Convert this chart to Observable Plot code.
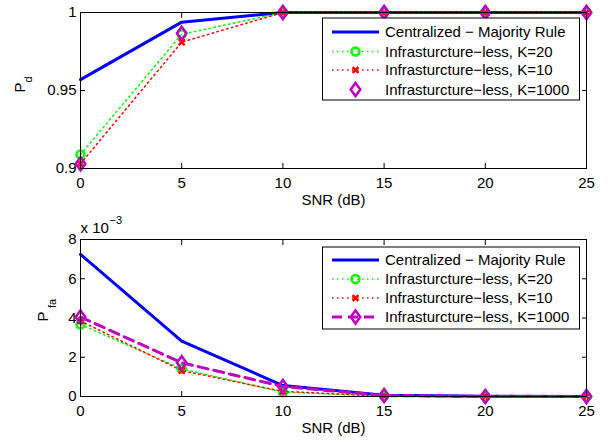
<!DOCTYPE html>
<html><head><meta charset="utf-8">
<script src="https://cdn.jsdelivr.net/npm/d3@7"></script>
<script src="https://cdn.jsdelivr.net/npm/@observablehq/plot@0.6"></script>
<style>
body{margin:0;background:#fff;}
#wrap{position:relative;width:610px;height:441px;font-family:"Liberation Sans",Arial,sans-serif;background:#fff;}
#topPanel,#botPanel{position:absolute;left:0;}
#topPanel{top:0}
#botPanel{top:205px}
#leg{position:absolute;left:0;top:0;pointer-events:none;}
</style></head><body>
<div id="wrap"><div id="topPanel"></div><div id="botPanel"></div><svg id="leg" width="610" height="441"></svg></div>
<script>
// ---- data ----
const snr = [0, 5, 10, 15, 20, 25];
const pdCentral = [0.957, 0.9938, 1, 1, 1, 1];
const pdK20     = [0.909, 0.986, 1, 1, 1, 1];
const pdK10     = [0.903, 0.981, 1, 1, 1, 1];
const pdK1000   = [0.903, 0.9867, 1, 1, 1, 1];
// Pfa in units of 1e-3
const pfaCentral = [7.24, 2.82, 0.56, 0.07, 0.01, 0];
const pfaK20     = [3.67, 1.41, 0.22, 0.02, 0, 0];
const pfaK10     = [3.85, 1.32, 0.26, 0.02, 0, 0];
const pfaK1000   = [4.05, 1.72, 0.51, 0.05, 0, 0];
const xTicks = [0, 5, 10, 15, 20, 25];
const pdTicks = [0.9, 0.95, 1];
const pdTickLabels = ["0.9", "0.95", "1"];
const pfaTicks = [0, 2, 4, 6, 8];
const pfaTickLabels = ["0", "2", "4", "6", "8"];
const seriesNames = ["Centralized − Majority Rule", "Infrasturcture−less, K=20", "Infrasturcture−less, K=10", "Infrasturcture−less, K=1000"];
const xLabel = "SNR (dB)";

const BLUE = "#0000ff", GREEN = "#00ff00", RED = "#ff0000", MAG = "#bf00bf";
const FONT = "Liberation Sans, Arial, sans-serif";

const diamond = {
  draw(ctx, size) {
    const s = Math.sqrt(size / Math.PI);
    const h = s * 1.65, w = s * 1.2;
    ctx.moveTo(0, -h); ctx.lineTo(w, 0); ctx.lineTo(0, h); ctx.lineTo(-w, 0); ctx.closePath();
  }
};

function rowsOf(a, b, c, d) {
  return snr.map((s, i) => ({snr: s, central: a[i], k20: b[i], k10: c[i], k1000: d[i]}));
}

function panel({height, marginTop, marginBottom, yDomain, yTicks, yLabels, rows, k1000Line, extraMarks}) {
  const fmt = (d) => yLabels[yTicks.indexOf(d)] ?? "";
  return Plot.plot({
    width: 610, height, marginLeft: 80, marginRight: 24, marginTop, marginBottom,
    style: {fontFamily: FONT, fontSize: "15px", color: "black", background: "transparent", overflow: "visible"},
    x: {domain: [0, 25]},
    y: {domain: yDomain},
    marks: [
      Plot.axisX(xTicks, {anchor: "bottom", tickSize: -5, tickPadding: 14, label: null, fontSize: 15}),
      Plot.axisX(xTicks, {anchor: "top", tickSize: -5, tickFormat: () => "", label: null}),
      Plot.axisY(yTicks, {anchor: "left", tickSize: -5, tickPadding: 9, tickFormat: fmt, label: null, fontSize: 15}),
      Plot.axisY(yTicks, {anchor: "right", tickSize: -5, tickFormat: () => "", label: null}),
      Plot.line(rows, {x: "snr", y: "central", stroke: BLUE, strokeWidth: 3}),
      Plot.line(rows, {x: "snr", y: "k20", stroke: GREEN, strokeWidth: 1.5, strokeDasharray: "1.5,3.5"}),
      Plot.dot(rows, {x: "snr", y: "k20", symbol: "circle", r: 4, stroke: GREEN, strokeWidth: 2.5, fill: "none"}),
      Plot.line(rows, {x: "snr", y: "k10", stroke: RED, strokeWidth: 1.5, strokeDasharray: "1.5,3.5"}),
      Plot.dot(rows, {x: "snr", y: "k10", symbol: "times", r: 2.8, stroke: RED, strokeWidth: 2.4}),
      ...(k1000Line ? [Plot.line(rows, {x: "snr", y: "k1000", stroke: MAG, strokeWidth: 3, strokeDasharray: "10,6"})] : []),
      Plot.dot(rows, {x: "snr", y: "k1000", symbol: diamond, r: 4, stroke: MAG, strokeWidth: 2.5, fill: "none"}),
      Plot.frame({stroke: "black", strokeWidth: 1}),
      Plot.text([xLabel], {frameAnchor: "bottom", dy: 32, text: d => d, fontSize: 15, lineAnchor: "middle"}),
      ...extraMarks
    ]
  });
}

const topChart = panel({
  height: 205, marginTop: 12, marginBottom: 37,
  yDomain: [0.9, 1], yTicks: pdTicks, yLabels: pdTickLabels,
  rows: rowsOf(pdCentral, pdK20, pdK10, pdK1000), k1000Line: false,
  extraMarks: [
    Plot.text(["P"], {frameAnchor: "left", dx: -60, dy: 2, rotate: -90, text: d => d, fontSize: 15, lineAnchor: "middle"}),
    Plot.text(["d"], {frameAnchor: "left", dx: -52, dy: -8, rotate: -90, text: d => d, fontSize: 11, lineAnchor: "middle"})
  ]
});
document.getElementById("topPanel").appendChild(topChart);

const botChart = panel({
  height: 236, marginTop: 34, marginBottom: 45,
  yDomain: [0, 8], yTicks: pfaTicks, yLabels: pfaTickLabels,
  rows: rowsOf(pfaCentral, pfaK20, pfaK10, pfaK1000), k1000Line: true,
  extraMarks: [
    Plot.text(["P"], {frameAnchor: "left", dx: -37, dy: 3.5, rotate: -90, text: d => d, fontSize: 15, lineAnchor: "middle"}),
    Plot.text(["fa"], {frameAnchor: "left", dx: -28, dy: -10, rotate: -90, text: d => d, fontSize: 11, lineAnchor: "middle"}),
    Plot.text(["x 10"], {frameAnchor: "top-left", dx: 0, dy: -11, text: d => d, fontSize: 15, textAnchor: "start", lineAnchor: "middle"}),
    Plot.text(["−3"], {frameAnchor: "top-left", dx: 29, dy: -19, text: d => d, fontSize: 11, textAnchor: "start", lineAnchor: "middle"})
  ]
});
document.getElementById("botPanel").appendChild(botChart);

// ---- legends ----
const leg = d3.select("#leg");
function legend(y0, rowsY, k1000Line) {
  const g = leg.append("g").attr("font-family", FONT).attr("font-size", 15);
  g.append("rect").attr("x", 322.5).attr("y", y0 + 0.5).attr("width", 257).attr("height", 82)
    .attr("fill", "white").attr("stroke", "black").attr("stroke-width", 1);
  const lx1 = 332, lx2 = 379, mx = 355.5, tx = 385;
  const specs = [
    {stroke: BLUE, w: 3, dash: null, sym: null},
    {stroke: GREEN, w: 1.5, dash: "1.5,3.5", sym: d3.symbolCircle, size: Math.PI * 16, sw: 2.5},
    {stroke: RED, w: 1.5, dash: "1.5,3.5", sym: d3.symbolTimes, size: Math.PI * 2.8 * 2.8, sw: 2.4},
    {stroke: MAG, w: 3, dash: k1000Line ? "10,6" : null, noLine: !k1000Line, sym: diamond, size: Math.PI * 16, sw: 2.5}
  ];
  specs.forEach((s, i) => {
    const y = rowsY[i];
    if (!s.noLine) {
      g.append("line").attr("x1", lx1).attr("x2", lx2).attr("y1", y).attr("y2", y)
        .attr("stroke", s.stroke).attr("stroke-width", s.w).attr("stroke-dasharray", s.dash);
    }
    if (s.sym) {
      g.append("path").attr("d", d3.symbol(s.sym, s.size)()).attr("transform", `translate(${mx},${y})`)
        .attr("fill", "none").attr("stroke", s.stroke).attr("stroke-width", s.sw);
    }
    g.append("text").attr("x", tx).attr("y", y).attr("dy", "0.35em").text(seriesNames[i]);
  });
}
legend(17.5, [32, 51.5, 70, 89.5], false);
legend(246.5, [260, 279, 298, 317], true);
</script>
</body></html>
